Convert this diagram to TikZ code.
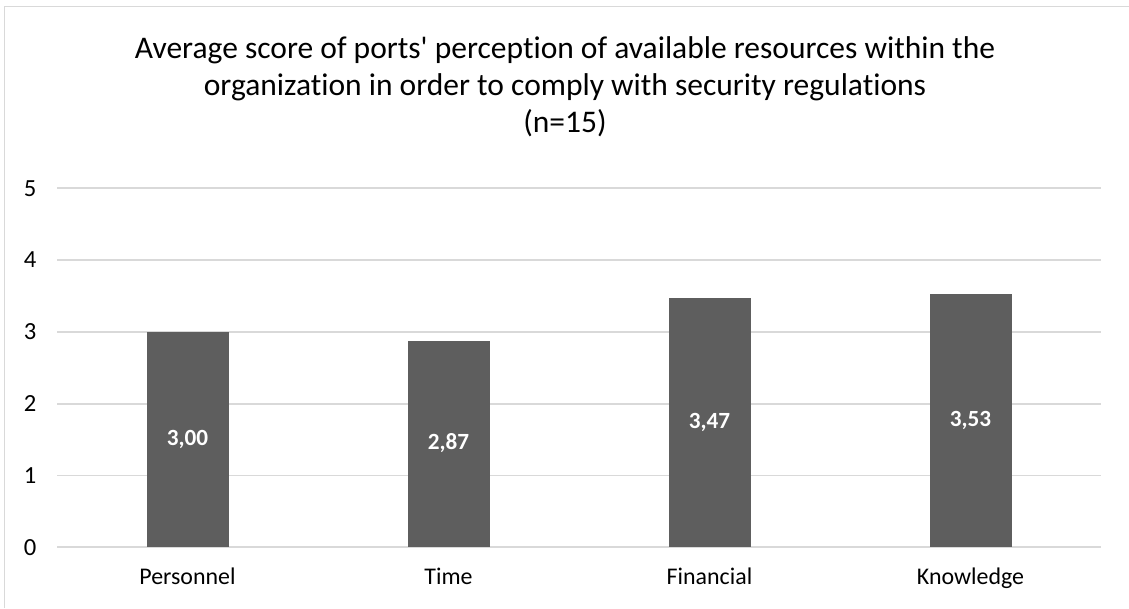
\documentclass[tikz,border=0pt]{standalone}
\usepackage{fontspec}
\setmainfont{Carlito}[Ligatures={NoCommon}]
\usepackage{xcolor}
\usepackage{tikz}
\usetikzlibrary{positioning}
\definecolor{mybar}{RGB}{94,94,94}
\definecolor{mygrid}{RGB}{217,217,217}
\definecolor{myframe}{RGB}{217,217,217}

\begin{document}
\begin{tikzpicture}[x=0.025cm,y=0.025cm,outer sep=0pt,
gridline/.style={
  draw=mygrid,
  line width=1.2pt},
bar/.style={
  fill=mybar},
barlabel/.style={
  font={\fontsize{16.5}{20}\selectfont\bfseries},
  text=white,
  text height=11pt,
  text depth=3pt},
ticklabel/.style={
  anchor=east,
  font={\fontsize{17.5}{20}\selectfont},
  text height=11pt,
  text depth=0pt},
catlabel/.style={
  font={\fontsize{17}{20}\selectfont},
  text height=12pt,
  text depth=4pt},
]
\useasboundingbox (0,0) rectangle (1129,608);
\draw[myframe, line width=1.4pt] (4.5,0) |- (1129,601.5);
% title
\node[align=center, font={\fontsize{22.4}{26.3}\selectfont}] (title) at (565,521)
  {Average score of ports\textquotesingle{} perception of available resources within the\\
   organization in order to comply with security regulations\\
   (n=15)};
% value axis and grid
\foreach \v in {0,...,5}{
  \draw[gridline] (57,60.7+71.8*\v) -- (1101,60.7+71.8*\v);
  \node[ticklabel] (tick\v) at (41,60.7+71.8*\v) {\v};
}
% bars
\foreach \val/\lab/\cat [count=\i] in {3.00/{3,00}/Personnel, 2.87/{2,87}/Time,
    3.47/{3,47}/Financial, 3.53/{3,53}/Knowledge}{
  \fill[bar] (57+261*\i-130.5-41,60.7) rectangle (57+261*\i-130.5+41,60.7+71.8*\val);
  \node[barlabel] (val\i) at (57+261*\i-130.5,60.7+35.9*\val) {\lab};
  \node[catlabel] (cat\i) at (57+261*\i-130.5,29) {\cat};
}
\end{tikzpicture}
\end{document}
